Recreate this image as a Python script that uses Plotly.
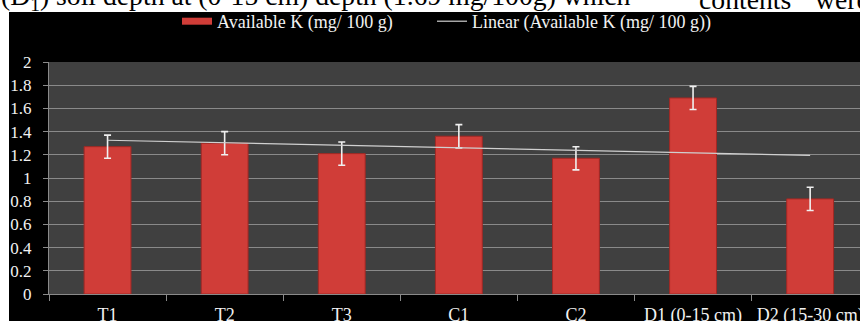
import numpy as np
import plotly.graph_objects as go

categories = ["T1", "T2", "T3", "C1", "C2", "D1 (0-15 cm)", "D2 (15-30 cm)"]
available_k = [1.27, 1.30, 1.21, 1.36, 1.17, 1.69, 0.82]
error_k = [0.10, 0.10, 0.10, 0.10, 0.10, 0.10, 0.10]
series_name = "Available K (mg/ 100 g)"
trend_name = "Linear (Available K (mg/ 100 g))"
y_ticks = [0, 0.2, 0.4, 0.6, 0.8, 1, 1.2, 1.4, 1.6, 1.8, 2]

# linear trend (least squares, as the spreadsheet trendline)
xi = np.arange(1, len(available_k) + 1)
slope, intercept = np.polyfit(xi, available_k, 1)
trend = slope * xi + intercept

W_FIG, H_FIG = 860, 321
L, T, B = 49, 62, 27
PW = W_FIG - L
PH = H_FIG - T - B
CAT_PX = 117.1


def xp(px):
    return (px - L) / PW


def yp(py):
    return (H_FIG - B - py) / PH


FONT = "Liberation Serif"
TXT = "#f2f2f2"
GRID = "#8a8a8a"
yfont = dict(family=FONT, size=17, color=TXT)
xfont = dict(family=FONT, size=18, color=TXT)
lfont = dict(family=FONT, size=18, color=TXT)
doc_font = dict(family=FONT, size=27.7, color="black")

fig = go.Figure()
fig.add_trace(go.Bar(
    x=categories, y=available_k, width=0.40,
    marker=dict(color="#d03d38", line=dict(color="#a32824", width=1)),
    error_y=dict(type="data", array=error_k, color="#f0f0f0", thickness=1.6, width=3.5),
    showlegend=False, name=series_name,
))
fig.add_trace(go.Scatter(
    x=categories, y=trend, mode="lines",
    line=dict(color="#d0d0d0", width=1.2), name=trend_name, showlegend=False,
))
# legend entries
fig.add_trace(go.Scatter(x=[None], y=[None], mode="lines", legend="legend",
                         line=dict(color="#d03d38", width=7), name=series_name))
fig.add_trace(go.Scatter(x=[None], y=[None], mode="lines", legend="legend2",
                         line=dict(color="#d0d0d0", width=1.2), name=trend_name))

legend_common = dict(orientation="h", y=yp(3), xanchor="left", yanchor="top",
                     bgcolor="rgba(0,0,0,0)", font=lfont)

fig.update_layout(
    width=W_FIG, height=H_FIG,
    margin=dict(l=L, r=0, t=T, b=B, pad=0, autoexpand=False),
    paper_bgcolor="#000000", plot_bgcolor="#404040",
    font=yfont,
    bargap=0.6,
    legend=dict(x=xp(177), **legend_common),
    legend2=dict(x=xp(432), **legend_common),
    xaxis=dict(range=[-0.5, -0.5 + PW / CAT_PX], showgrid=False, showline=True,
               linecolor=GRID, linewidth=1, ticks="outside", tickson="boundaries",
               ticklen=6, tickcolor=GRID, tickfont=xfont, automargin=False,
               ticklabelstandoff=4, fixedrange=True),
    yaxis=dict(range=[0, 2], tickvals=y_ticks, ticktext=[f"{v:g}" for v in y_ticks],
               showgrid=True, gridcolor=GRID, gridwidth=1, showline=True,
               linecolor=GRID, linewidth=1, ticks="outside", ticklen=5, tickcolor=GRID,
               tickfont=yfont, ticklabelstandoff=8, zeroline=False, automargin=False,
               fixedrange=True),
    shapes=[
        dict(type="rect", xref="paper", yref="paper", x0=xp(-10), x1=xp(880),
             y0=yp(12), y1=yp(-10), fillcolor="white", line=dict(width=0), layer="above"),
        dict(type="rect", xref="paper", yref="paper", x0=xp(-10), x1=xp(9),
             y0=yp(340), y1=yp(12), fillcolor="white", line=dict(width=0), layer="above"),
    ],
    annotations=[
        dict(text="(D<sub>1</sub>) soil depth at (0-15 cm) depth (1.69 mg/100g) which",
             xref="paper", yref="paper", x=xp(-1), y=yp(17), xanchor="left", yanchor="bottom",
             showarrow=False, font=doc_font),
        dict(text="contents", xref="paper", yref="paper", x=xp(697), y=yp(17),
             xanchor="left", yanchor="bottom", showarrow=False, font=doc_font),
        dict(text="were", xref="paper", yref="paper", x=xp(813), y=yp(17),
             xanchor="left", yanchor="bottom", showarrow=False, font=doc_font),
    ],
)

fig.write_html("out.html", config={"displayModeBar": False},
               post_script="document.body.style.margin='0';document.body.style.overflow='hidden';")
